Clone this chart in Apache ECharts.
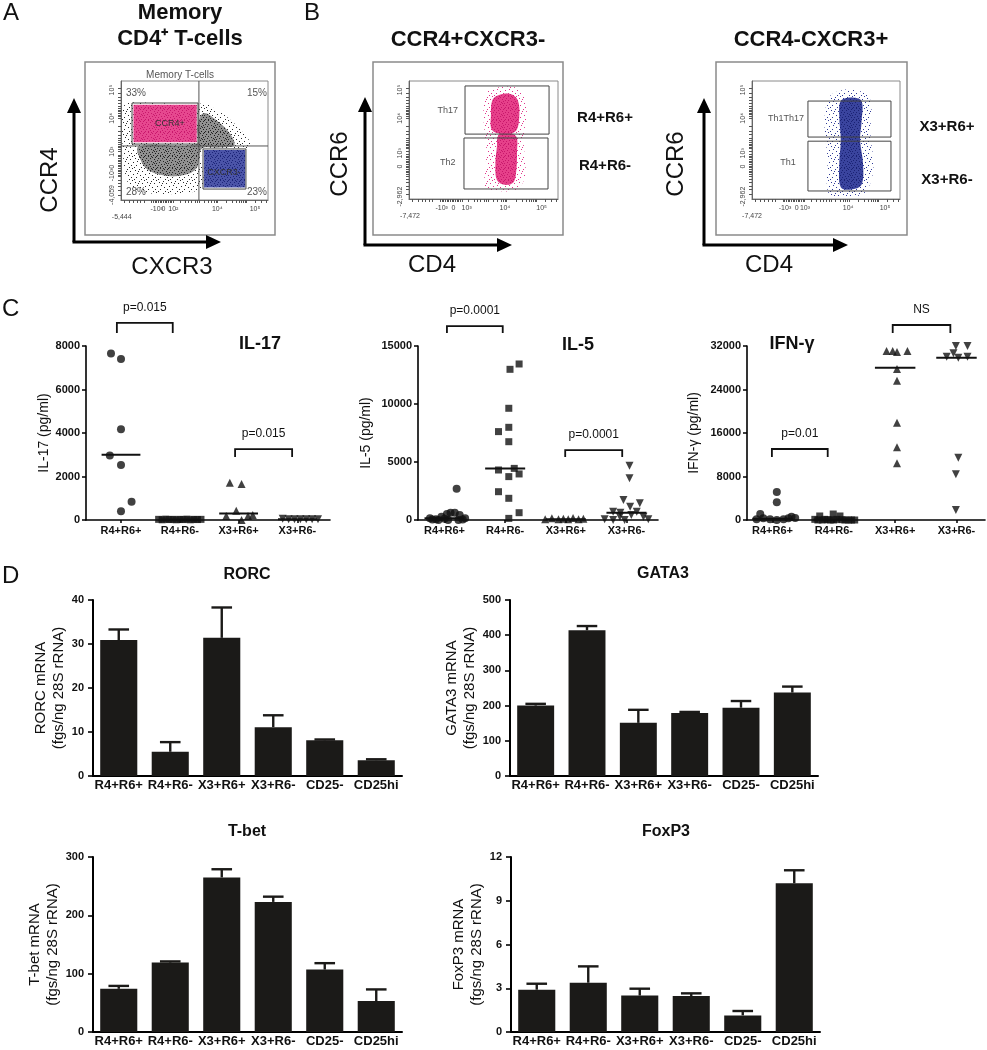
<!DOCTYPE html>
<html><head><meta charset="utf-8">
<script src="https://cdn.jsdelivr.net/npm/echarts@6/dist/echarts.min.js"></script>
<style>html,body{margin:0;padding:0;background:#fff}#c{width:987px;height:1050px}</style>
</head><body><div id="c"></div>
<script>
// ================= DATA =================
const groupsC = ['R4+R6+','R4+R6-','X3+R6+','X3+R6-'];
const groupsD = ['R4+R6+','R4+R6-','X3+R6+','X3+R6-','CD25-','CD25hi'];

// Panel C: each point = [group position incl. horizontal scatter offset, value pg/ml]
const il17_R4R6pos = [[-0.17,7660],[0.0,7400],[0.0,4170],[-0.19,2960],[0.0,2530],[0.18,840],[0.0,400]];
const il17_R4R6neg = [[0.64,30],[0.7,10],[0.76,40],[0.82,20],[0.88,30],[0.94,10],[1.0,30],[1.06,20],[1.12,40],[1.18,10],[1.24,30],[1.3,20],[1.36,30]];
const il17_X3R6pos = [[1.85,1716],[2.05,1655],[1.96,430],[1.79,184],[2.24,230],[2.16,184],[2.05,0]];
const il17_X3R6neg = [[2.75,60],[2.85,40],[2.95,40],[3.05,30],[3.15,30],[3.25,30],[3.35,40]];
const il17_median = [3000, 20, 300, 30];

const il5_R4R6pos = [[0.2,2700],[-0.24,144],[-0.14,57],[-0.05,287],[0.04,517],[0.1,632],[0.17,632],[0.25,431],[0.34,144],[-0.1,0],[0.06,0],[0.23,0],[0.0,115],[-0.2,40],[0.3,40]];
const il5_R4R6neg = [[1.08,12990],[1.23,13450],[1.06,9630],[1.06,7990],[0.89,7620],[1.06,6750],[0.89,4310],[1.15,4450],[1.06,3740],[1.23,3970],[0.89,2440],[1.06,1870],[1.23,630],[1.06,140]];
const il5_X3R6pos = [[1.66,57],[1.77,144],[1.88,57],[1.96,115],[2.04,57],[2.12,172],[2.21,57],[2.29,115]];
const il5_X3R6neg = [[3.05,4680],[3.05,3590],[2.95,1720],[3.22,1440],[2.78,720],[3.06,1150],[2.89,290],[3.08,430],[3.17,720],[3.28,290],[2.78,0],[2.97,0],[3.36,57],[2.64,57],[2.9,630]];
const il5_median = [150, 4450, 60, 630];

const ifn_R4R6pos = [[0.07,5150],[0.07,3250],[-0.2,1100],[0.31,610],[-0.15,310],[-0.04,120],[0.07,0],[0.18,120],[0.26,310],[0.37,370],[-0.26,120]];
const ifn_R4R6neg = [[0.77,740],[0.99,1100],[1.1,740],[0.85,120],[0.94,0],[1.05,120],[1.18,0],[1.29,0],[0.69,120],[0.74,0],[0.81,0],[0.9,60],[1.0,0],[1.13,60],[1.24,0],[1.34,0]];
const ifn_X3R6pos = [[1.86,31080],[1.96,31080],[2.03,30900],[2.2,31080],[2.03,27770],[2.03,25620],[2.03,17900],[2.03,13360],[2.03,10420]];
const ifn_X3R6neg = [[2.99,32000],[3.18,32000],[2.95,30650],[2.84,30040],[3.03,29850],[3.18,30040],[3.03,11460],[2.99,8400],[2.99,1840]];
const ifn_median = [250, 100, 28000, 29850];

// significance brackets: [from, to, top value, drop value, text]
const il17_brackets = [[-0.07,0.88,9060,8600,'p=0.015'],[1.94,2.91,3260,2900,'p=0.015']];
const il5_brackets  = [[0.04,0.96,16720,16120,'p=0.0001'],[1.99,2.93,6030,5430,'p=0.0001']];
const ifn_brackets  = [[-0.01,0.9,13060,11590,'p=0.01'],[1.96,2.9,35860,34390,'NS']];

// Panel D: mean and mean+SEM (fgs/ng 28S rRNA)
const rorc = [30.9, 5.5, 31.4, 11.1, 8.1, 3.6];
const rorcErr = [33.3, 7.7, 38.3, 13.8, 8.3, 3.8];
const gata3 = [200, 414, 151, 179, 194, 237];
const gata3Err = [205, 426, 188, 182, 213, 254];
const tbet = [74, 119, 265, 223, 107, 53];
const tbetErr = [79, 121, 279, 232, 118, 73];
const foxp3 = [2.9, 3.38, 2.5, 2.47, 1.14, 10.2];
const foxp3Err = [3.31, 4.5, 2.97, 2.65, 1.44, 11.09];

// Panels A/B: flow plots in display units (0-100 on each axis), cloud outlines
const flowA_black_halo = [[1,47],[1.5,78],[7,82],[52,80],[56,82],[62,78],[72,70],[82,58],[88,48],[86,43],[56,41],[56,12],[46,6],[30,5],[14,7],[5,14],[2,30]];
const flowA_black_core = [[12,45],[14,32],[20,24],[34,20],[46,22],[52,28],[55,43],[66,44],[77,46],[74,56],[66,66],[56,73],[52,60],[52,47]];
const flowA_pink = [[8.5,48.5],[8.5,80],[51.5,80],[51.5,48.5]];
const flowA_blue = [[56.5,10.5],[56.5,42],[84.5,42],[84.5,10.5]];
const flowA_gates = [[7.5,47,52.4,81.5],[55.8,9.2,85,42.9]];
const flowA_quadrant = [53, 45.4];
const flowA_texts = [[10.2,90,'33%'],[92.5,90,'15%'],[10.2,6.7,'28%'],[92.5,6.7,'23%']];
const flowA_gateNames = [[33.3,63.9,'CCR4+'],[70,22.7,'CXCR3-']];

const flowB1_halo = [[51,10],[52,40],[50,70],[52,90],[62,95],[74,93],[79,80],[77,50],[78,20],[72,8],[58,7]];
const flowB1_coreUp = [[56,58],[55,72],[56,84],[60,88],[68,89],[73,84],[74,70],[72,58],[66,55]];
const flowB1_coreLow = [[59,16],[58,30],[59,44],[60,54],[66,56],[72,53],[72.5,40],[72,24],[70,14],[64,12]];
const flowB1_gates = [[37.6,55,94,95.8],[36.9,8.5,93.3,51.7]];
const flowB1_gateNames = [[26,75.4,'Th17'],[26,30.5,'Th2']];

const flowB2_halo = [[52,4],[51,35],[49,65],[52,86],[60,92],[72,92],[80,84],[80,55],[82,25],[76,5],[64,2]];
const flowB2_core = [[60,10],[59,30],[60,50],[59,70],[60,83],[67,86],[74,83],[74,65],[73,50],[75,30],[74,12],[67,8]];
const flowB2_gates = [[37.8,52.5,93.9,83],[37.8,6.8,93.9,49]];
const flowB2_gateNames = [[23,68.6,'Th1Th17'],[24.3,30.5,'Th1']];

// flow axis tick labels [position, text]
const flowA_xLabels = [[0.5,'\n-5,444'],[24.3,'-10³'],[28.8,'0'],[35.6,'10²'],[65.5,'10⁴'],[91.2,'10⁵']];
const flowA_yLabels = [[92.4,'10⁵'],[68.6,'10⁴'],[40.6,'10³'],[28,'0'],[21,'-10³'],[4.2,'-4,059']];
const flowB1_xLabels = [[0.7,'\n-7,472'],[21.9,'-10³'],[29.8,'0'],[38.7,'10³'],[64.4,'10⁴'],[89,'10⁵']];
const flowB2_xLabels = [[0,'\n-7,472'],[22.3,'-10³'],[30.2,'0'],[35.8,'10³'],[65,'10⁴'],[89.9,'10⁵']];
const flowB_yLabels = [[92.4,'10⁵'],[68.4,'10⁴'],[38.7,'10³'],[27.4,'0'],[2,'-2,962']];
const flowXTicks = [1.9,5.9,8.6,11.2,13.4,15.6,20.9,22.1,23.2,24.3,25.5,26.6,27.7,28.8,29.9,31.1,32.2,33.3,34.5,35.6,40.1,43.5,45.8,48.1,50.3,51.9,53.3,56.5,59.4,61.7,63.3,64.6,65.5,71.9,75.9,78.7,80.5,82.1,83.2,84.4,85.5,91.2,95.7,99.1];
const flowYTicks = [93.8,89.6,86.3,84,81.2,79,77,75.6,74.2,72.8,71.4,70,68.6,61.6,57.4,54.6,51.8,49.9,48.2,46.8,45.4,44,42.6,40.6,37.8,36.4,35,33.6,32.2,30.8,29.4,28,26.6,25.2,23.8,22.4,21,19.6,16.8,14,11.2,8.4,4.2];

// ================= CHART =================
const FF = "'Liberation Sans', Arial, Helvetica, sans-serif";
const chart = echarts.init(document.getElementById('c'), null, {renderer:'canvas'});

// speckle fill patterns (style only): fixed irregular dot layouts in a 12x12 tile
const sparseCells = [[0,0],[7,1],[3,2],[10,3],[5,5],[1,6],[8,7],[11,9],[4,9],[2,11],[9,11],[6,3]];
const denseCells = [[0,0],[4,0],[8,1],[11,1],[2,2],[6,2],[10,3],[1,4],[4,4],[7,5],[11,5],[3,6],[9,6],[0,7],[5,8],[8,8],[2,9],[11,9],[6,10],[9,11],[1,11],[4,11],[10,7],[7,0]];
function speckle(color, bg, cells){
  const c = document.createElement('canvas'); c.width = 12; c.height = 12;
  const ctx = c.getContext('2d');
  if (bg) { ctx.fillStyle = bg; ctx.fillRect(0,0,12,12); }
  ctx.fillStyle = color;
  cells.forEach(p => ctx.fillRect(p[0], p[1], 1, 1));
  return {image:c, repeat:'repeat'};
}

const grids = [
 {left:121, top:81, width:147, height:119, show:true, borderColor:'#8a8a8a', borderWidth:1},
 {left:409, top:81, width:149, height:118, show:true, borderColor:'#8a8a8a', borderWidth:1},
 {left:752, top:81, width:148, height:118, show:true, borderColor:'#8a8a8a', borderWidth:1},
 {left:86, top:346, width:244, height:174},
 {left:418, top:346, width:240, height:174},
 {left:747, top:346, width:238, height:174},
 {left:93, top:600, width:309, height:176},
 {left:510, top:600, width:308, height:176},
 {left:93, top:857, width:309, height:175},
 {left:511, top:857, width:309, height:175}
];

function lookup(list, v){ for (const l of list) if (Math.abs(l[0]-v) < 0.05) return l[1]; return ''; }

function flowX(g, labels){
  return {gridIndex:g, type:'value', min:0, max:100,
    axisLine:{show:true, onZero:false, lineStyle:{color:'#666', width:1}},
    axisTick:{show:true, customValues:flowXTicks, length:3, lineStyle:{color:'#555', width:1}},
    axisLabel:{customValues:labels.map(l=>l[0]), formatter:v=>lookup(labels,v), fontSize:7, color:'#444', margin:5, fontFamily:FF, lineHeight:8},
    splitLine:{show:false}};
}
function flowY(g, labels){
  return {gridIndex:g, type:'value', min:0, max:100,
    axisLine:{show:true, onZero:false, lineStyle:{color:'#666', width:1}},
    axisTick:{show:true, customValues:flowYTicks, length:3, lineStyle:{color:'#555', width:1}},
    axisLabel:{customValues:labels.map(l=>l[0]), formatter:v=>lookup(labels,v), fontSize:7, color:'#444', margin:5, rotate:90, fontFamily:FF},
    splitLine:{show:false}};
}
function cX(g, min, max){
  return {gridIndex:g, type:'value', min, max,
    axisLine:{show:true, onZero:false, lineStyle:{color:'#000', width:1.6}},
    axisTick:{show:true, customValues:[0,1,2,3], length:3, lineStyle:{color:'#000', width:1.5}},
    axisLabel:{customValues:[0,1,2,3], formatter:v=>groupsC[Math.round(v)], fontSize:11, fontWeight:'bold', color:'#111', margin:5, fontFamily:FF},
    splitLine:{show:false}};
}
function cY(g, max, interval, name, gap){
  return {gridIndex:g, type:'value', min:0, max, interval, name, nameLocation:'middle', nameGap:gap,
    nameTextStyle:{fontSize:14, fontFamily:FF, color:'#111'},
    axisLine:{show:true, onZero:false, lineStyle:{color:'#000', width:1.6}},
    axisTick:{show:true, length:4, lineStyle:{color:'#000', width:1.5}},
    axisLabel:{fontSize:11, fontWeight:'bold', color:'#111', margin:6, fontFamily:FF, formatter:v=>String(v)},
    splitLine:{show:false}};
}
function dX(g){
  return {gridIndex:g, type:'category', data:groupsD,
    axisLine:{show:true, onZero:false, lineStyle:{color:'#000', width:2}},
    axisTick:{show:false},
    axisLabel:{fontSize:13, fontWeight:'bold', color:'#111', margin:3, fontFamily:FF, interval:0},
    splitLine:{show:false}};
}
function dY(g, max, interval, name, gap){
  return {gridIndex:g, type:'value', min:0, max, interval, name, nameLocation:'middle', nameGap:gap,
    nameTextStyle:{fontSize:15, fontFamily:FF, color:'#111', lineHeight:18},
    axisLine:{show:true, onZero:false, lineStyle:{color:'#000', width:2}},
    axisTick:{show:true, length:5, lineStyle:{color:'#000', width:1.6}},
    axisLabel:{fontSize:11, fontWeight:'bold', color:'#111', margin:9, fontFamily:FF, formatter:v=>String(v)},
    splitLine:{show:false}};
}

const xAxes = [
  flowX(0, flowA_xLabels), flowX(1, flowB1_xLabels), flowX(2, flowB2_xLabels),
  cX(3, -0.595, 3.554), cX(4, -0.437, 3.52), cX(5, -0.416, 3.465),
  dX(6), dX(7), dX(8), dX(9)
];
const yAxes = [
  flowY(0, flowA_yLabels), flowY(1, flowB_yLabels), flowY(2, flowB_yLabels),
  cY(3, 8000, 2000, 'IL-17 (pg/ml)', 31), cY(4, 15000, 5000, 'IL-5 (pg/ml)', 45), cY(5, 32000, 8000, 'IFN-γ (pg/ml)', 46),
  dY(6, 40, 10, 'RORC mRNA\n(fgs/ng 28S rRNA)', 19), dY(7, 500, 100, 'GATA3 mRNA\n(fgs/ng 28S rRNA)', 22),
  dY(8, 300, 100, 'T-bet mRNA\n(fgs/ng 28S rRNA)', 20), dY(9, 12, 3, 'FoxP3 mRNA\n(fgs/ng 28S rRNA)', 22)
];

const series = [];

// ---- flow helpers ----
function poly(g, pts, fill, opacity, smooth){
  series.push({type:'custom', xAxisIndex:g, yAxisIndex:g, data:pts, silent:true, clip:false, z:2,
    renderItem:(p, api)=>{
      if (p.dataIndex !== 0) return null;
      return {type:'polygon', shape:{points:pts.map(q=>api.coord(q)), smooth:smooth}, style:{fill:fill, opacity:opacity}};
    }});
}
function rects(g, list){
  series.push({type:'custom', xAxisIndex:g, yAxisIndex:g, data:list.map(r=>[r[0],r[1]]), silent:true, clip:false, z:4,
    renderItem:(p, api)=>{
      const r = list[p.dataIndex];
      const a = api.coord([r[0], r[1]]), b = api.coord([r[2], r[3]]);
      return {type:'rect', shape:{x:a[0], y:b[1], width:b[0]-a[0], height:a[1]-b[1]}, style:{fill:'none', stroke:'#444', lineWidth:1}};
    }});
}
function texts(g, list, style){
  series.push({type:'custom', xAxisIndex:g, yAxisIndex:g, data:list.map(d=>[d[0],d[1]]), silent:true, clip:false, z:6,
    renderItem:(p, api)=>{
      const d = list[p.dataIndex];
      const c = api.coord([d[0], d[1]]);
      return {type:'text', style:Object.assign({text:d[2], x:c[0], y:c[1], align:'center', verticalAlign:'middle', fontFamily:FF}, style)};
    }});
}

// Panel A
poly(0, flowA_black_halo, speckle('#2a2a2a', null, sparseCells), 1, 0.35);
poly(0, flowA_black_core, speckle('#1a1a1a', '#8c8c8c', denseCells), 0.95, 0.35);
poly(0, flowA_pink, speckle('#c8176c', '#e6488f', denseCells), 1, 0);
poly(0, flowA_blue, speckle('#1c2478', '#4b54a8', denseCells), 1, 0);
series.push({type:'custom', xAxisIndex:0, yAxisIndex:0, data:[flowA_quadrant], silent:true, clip:false, z:4,
  renderItem:(p, api)=>{
    const q = flowA_quadrant;
    const v0 = api.coord([q[0], 0]), v1 = api.coord([q[0], 100]);
    const h0 = api.coord([0, q[1]]), h1 = api.coord([100, q[1]]);
    return {type:'group', children:[
      {type:'line', shape:{x1:v0[0], y1:v0[1], x2:v1[0], y2:v1[1]}, style:{stroke:'#555', lineWidth:1}},
      {type:'line', shape:{x1:h0[0], y1:h0[1], x2:h1[0], y2:h1[1]}, style:{stroke:'#555', lineWidth:1}}]};
  }});
rects(0, flowA_gates);
texts(0, flowA_texts, {fontSize:10, fill:'#555'});
texts(0, flowA_gateNames, {fontSize:9, fill:'#333'});

// Panel B1
poly(1, flowB1_halo, speckle('#e2348a', null, sparseCells), 1, 0.35);
poly(1, flowB1_coreUp, speckle('#c8176c', '#e6408a', denseCells), 1, 0.35);
poly(1, flowB1_coreLow, speckle('#c8176c', '#e6408a', denseCells), 1, 0.35);
rects(1, flowB1_gates);
texts(1, flowB1_gateNames, {fontSize:9, fill:'#555'});

// Panel B2
poly(2, flowB2_halo, speckle('#2f3a98', null, sparseCells), 1, 0.35);
poly(2, flowB2_core, speckle('#1a2274', '#3a449e', denseCells), 1, 0.35);
rects(2, flowB2_gates);
texts(2, flowB2_gateNames, {fontSize:9, fill:'#555'});

// ---- Panel C ----
function dots(g, data, symbol, size, rot){
  series.push({type:'scatter', xAxisIndex:g, yAxisIndex:g, data, symbol, symbolSize:size, symbolRotate:rot||0, clip:false, z:5,
    itemStyle:{color:'#111'}});
}
function medians(g, med){
  series.push({type:'custom', xAxisIndex:g, yAxisIndex:g, data:med.map((m,i)=>[i,m]), clip:false, z:4,
    renderItem:(p, api)=>{
      const i = api.value(0), m = api.value(1);
      const a = api.coord([i-0.33, m]), b = api.coord([i+0.33, m]);
      return {type:'line', shape:{x1:a[0], y1:a[1], x2:b[0], y2:b[1]}, style:{stroke:'#111', lineWidth:2}};
    }});
}
function brackets(g, list){
  series.push({type:'custom', xAxisIndex:g, yAxisIndex:g, data:list.map(b=>[b[0],b[2]]), clip:false, z:4, silent:true,
    renderItem:(p, api)=>{
      const b = list[p.dataIndex];
      const l0 = api.coord([b[0], b[3]]), l1 = api.coord([b[0], b[2]]);
      const r1 = api.coord([b[1], b[2]]), r0 = api.coord([b[1], b[3]]);
      return {type:'group', children:[
        {type:'polyline', shape:{points:[l0, l1, r1, r0]}, style:{stroke:'#111', lineWidth:1.8, fill:'none'}},
        {type:'text', style:{text:b[4], x:(l1[0]+r1[0])/2, y:l1[1]-15, align:'center', verticalAlign:'middle', fontSize:12, fontFamily:FF, fill:'#111'}}]};
    }});
}
dots(3, il17_R4R6pos, 'circle', 8); dots(3, il17_R4R6neg, 'rect', 7); dots(3, il17_X3R6pos, 'triangle', 8); dots(3, il17_X3R6neg, 'triangle', 8, 180);
medians(3, il17_median); brackets(3, il17_brackets);
dots(4, il5_R4R6pos, 'circle', 8); dots(4, il5_R4R6neg, 'rect', 7); dots(4, il5_X3R6pos, 'triangle', 8); dots(4, il5_X3R6neg, 'triangle', 8, 180);
medians(4, il5_median); brackets(4, il5_brackets);
dots(5, ifn_R4R6pos, 'circle', 8); dots(5, ifn_R4R6neg, 'rect', 7); dots(5, ifn_X3R6pos, 'triangle', 8); dots(5, ifn_X3R6neg, 'triangle', 8, 180);
medians(5, ifn_median); brackets(5, ifn_brackets);

// ---- Panel D ----
function barsWithErr(g, vals, errs){
  series.push({type:'bar', xAxisIndex:g, yAxisIndex:g, data:vals, barWidth:'72%', itemStyle:{color:'#1b1a18'}, z:2});
  series.push({type:'custom', xAxisIndex:g, yAxisIndex:g, data:vals.map((v,i)=>[i, v, errs[i]]), clip:false, z:3,
    renderItem:(p, api)=>{
      const i = api.value(0);
      const a = api.coord([i, api.value(1)]), b = api.coord([i, api.value(2)]);
      const hw = api.size([1,0])[0]*0.2;
      return {type:'group', children:[
        {type:'line', shape:{x1:a[0], y1:a[1], x2:b[0], y2:b[1]}, style:{stroke:'#1b1a18', lineWidth:2.4}},
        {type:'line', shape:{x1:b[0]-hw, y1:b[1], x2:b[0]+hw, y2:b[1]}, style:{stroke:'#1b1a18', lineWidth:2.4}}]};
    }});
}
barsWithErr(6, rorc, rorcErr);
barsWithErr(7, gata3, gata3Err);
barsWithErr(8, tbet, tbetErr);
barsWithErr(9, foxp3, foxp3Err);

// ---- decorations ----
const G = [];
function txt(x, y, text, size, weight, color){
  G.push({type:'text', x, y, style:{text, fontSize:size, fontWeight:weight||'normal', fontFamily:FF, fill:color||'#111', align:'center', verticalAlign:'middle'}});
}
function vtxt(x, y, text, size){
  G.push({type:'text', x, y, rotation:Math.PI/2, style:{text, fontSize:size, fontFamily:FF, fill:'#111', align:'center', verticalAlign:'middle'}});
}
function box(x1, y1, x2, y2){
  G.push({type:'rect', shape:{x:x1, y:y1, width:x2-x1, height:y2-y1}, style:{fill:'none', stroke:'#8a8a8a', lineWidth:1.5}});
}
function axesArrows(x, y, yTip, xTip){
  G.push({type:'line', shape:{x1:x, y1:y, x2:x, y2:yTip+12}, style:{stroke:'#000', lineWidth:3}});
  G.push({type:'polygon', shape:{points:[[x-7,yTip+15],[x+7,yTip+15],[x,yTip]]}, style:{fill:'#000'}});
  G.push({type:'line', shape:{x1:x-1.5, y1:y, x2:xTip-12, y2:y}, style:{stroke:'#000', lineWidth:3}});
  G.push({type:'polygon', shape:{points:[[xTip-15,y-7],[xTip-15,y+7],[xTip,y]]}, style:{fill:'#000'}});
}
// panel letters
G.push({type:'text', x:3, y:1, style:{text:'A', fontSize:24, fontFamily:FF, fill:'#111'}});
G.push({type:'text', x:304, y:1, style:{text:'B', fontSize:24, fontFamily:FF, fill:'#111'}});
G.push({type:'text', x:2, y:297, style:{text:'C', fontSize:24, fontFamily:FF, fill:'#111'}});
G.push({type:'text', x:2, y:564, style:{text:'D', fontSize:24, fontFamily:FF, fill:'#111'}});
// A
txt(180, 13, 'Memory', 22, 'bold');
txt(180, 39, 'CD4⁺ T-cells', 22, 'bold');
box(85, 62, 275, 235);
txt(180, 75, 'Memory T-cells', 10, 'normal', '#555');
axesArrows(74, 242, 98, 221);
vtxt(50, 180, 'CCR4', 24);
txt(172, 267, 'CXCR3', 24);
// B1
txt(468, 40, 'CCR4+CXCR3-', 22, 'bold');
box(373, 62, 563, 235);
axesArrows(365, 245, 97, 512);
vtxt(340, 164, 'CCR6', 24);
txt(432, 265, 'CD4', 24);
txt(605, 118, 'R4+R6+', 15, 'bold');
txt(605, 166, 'R4+R6-', 15, 'bold');
// B2
txt(811, 40, 'CCR4-CXCR3+', 22, 'bold');
box(716, 62, 907, 235);
axesArrows(704, 245, 98, 848);
vtxt(676, 164, 'CCR6', 24);
txt(769, 265, 'CD4', 24);
txt(947, 127, 'X3+R6+', 15, 'bold');
txt(947, 180, 'X3+R6-', 15, 'bold');
// C titles
txt(260, 344, 'IL-17', 18, 'bold');
txt(578, 345, 'IL-5', 18, 'bold');
txt(792, 344, 'IFN-γ', 18, 'bold');
// D titles
txt(247, 575, 'RORC', 16, 'bold');
txt(663, 574, 'GATA3', 16, 'bold');
txt(247, 832, 'T-bet', 16, 'bold');
txt(666, 832, 'FoxP3', 16, 'bold');

chart.setOption({
  animation:false,
  backgroundColor:'#ffffff',
  textStyle:{fontFamily:FF},
  grid:grids, xAxis:xAxes, yAxis:yAxes, series, graphic:G
});
</script>
</body></html>
